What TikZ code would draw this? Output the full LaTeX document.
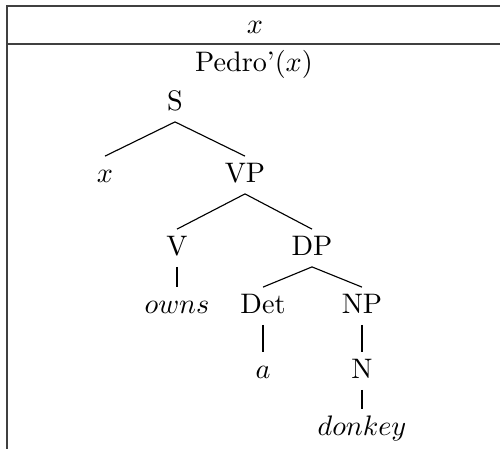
\documentclass[tikz,border=0pt]{standalone}
\usepackage{amsmath}
\usepackage{tikz}
\tikzset{
	every node/.style={inner xsep=1pt, inner ysep=2pt, text height=7pt, text depth=2pt}, % one box size for every label, so the lines meet them alike
	drsline/.style={line width=0.6pt, draw=black!75}, % the frame of the box
	branch/.style={line width=0.4pt}, % the lines of the tree
}

\begin{document}
\begin{tikzpicture}[x=0.3546pt, y=-0.3546pt]
	\useasboundingbox (0,0) rectangle (500,448);
	% frame and universe line
	\draw[drsline] (7,6) rectangle (502,456);
	\draw[drsline] (7,44) -- (502,44);
	% universe and condition
	\node (ref) at (255,26) {$x$};
	\node (cond) at (254,64) {Pedro'$(x)$};
	% the tree
	\node (S) at (175,103) {S};
	\node (x) at (105,175) {$x$};
	\node (VP) at (245,175) {VP};
	\node (V) at (177,248) {V};
	\node (DP) at (312,248) {DP};
	\node (owns) at (177,306) {$owns$};
	\node (Det) at (263,306) {Det};
	\node (NP) at (362,306) {NP};
	\node (a) at (263,371) {$a$};
	\node (N) at (362,371) {N};
	\node (donkey) at (362,428) {$donkey$};
	\draw[branch] (S.south) edge (x.north)
			(S.south) edge (VP.north)
			(VP.south) edge (V.north)
			(VP.south) edge (DP.north)
			(V.south) edge (owns.north)
			(DP.south) edge (Det.north)
			(DP.south) edge (NP.north)
			(Det.south) edge (a.north)
			(NP.south) edge (N.north)
			(N.south) edge (donkey.north);
\end{tikzpicture}
\end{document}
